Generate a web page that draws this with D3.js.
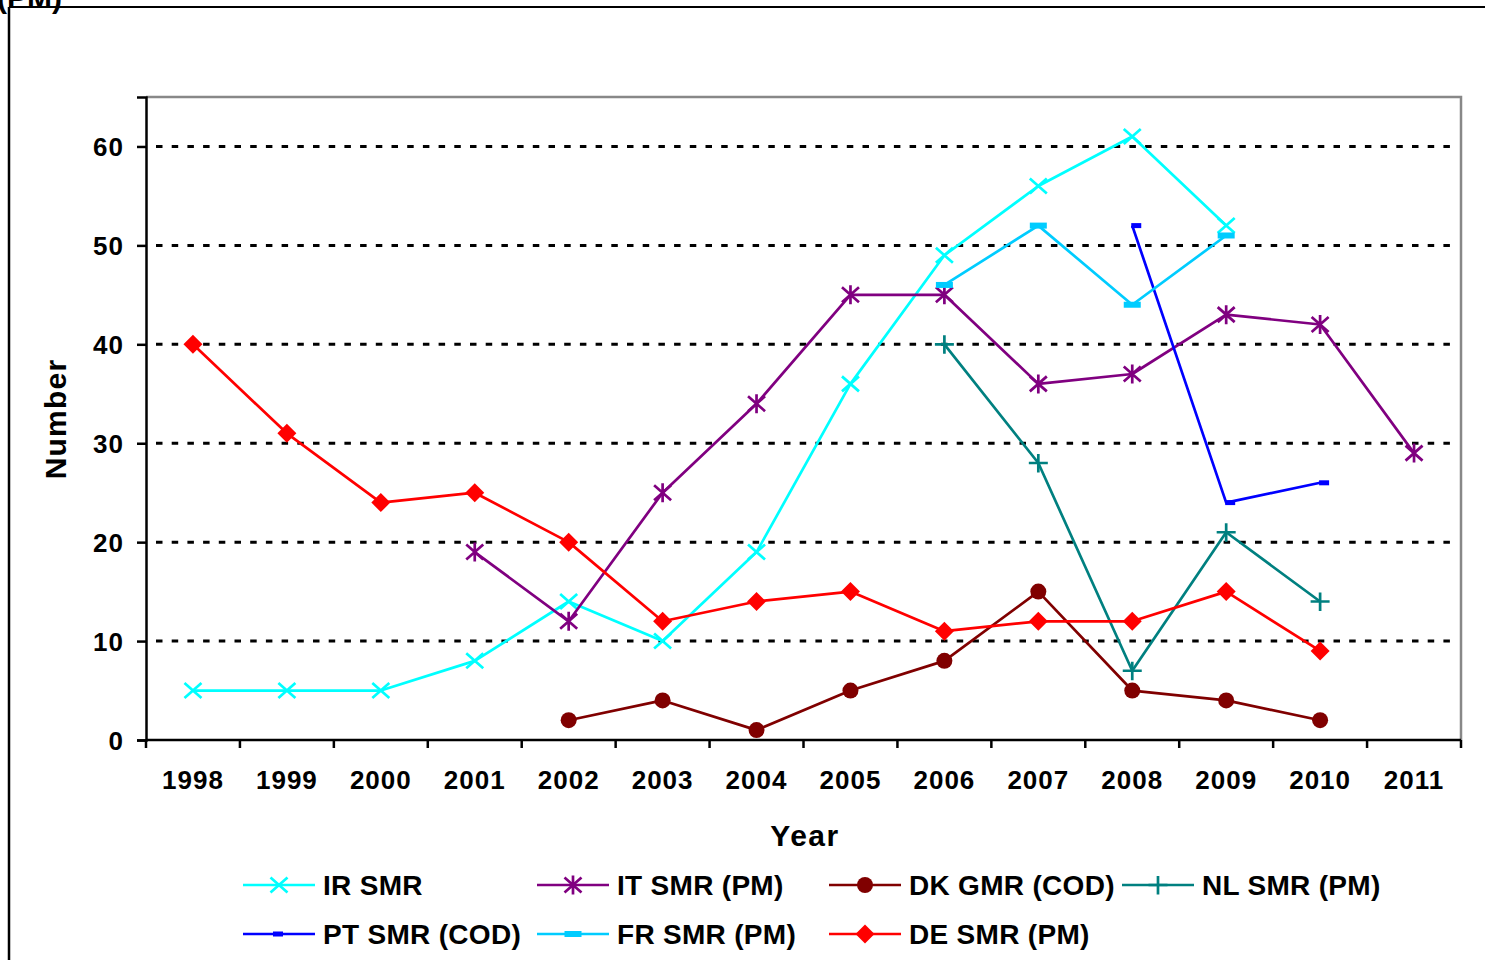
<!DOCTYPE html>
<html>
<head>
<meta charset="utf-8">
<script src="https://cdn.jsdelivr.net/npm/d3@7"></script>
<style>
  body { margin: 0; background: #fff; }
  svg { display: block; font-family: "Liberation Sans", Arial, sans-serif; }
</style>
</head>
<body>
<svg id="chart" width="1485" height="960"></svg>
<script>
// years on the x axis
var years = ["1998","1999","2000","2001","2002","2003","2004","2005","2006","2007","2008","2009","2010","2011"];
var yTicks = [0, 10, 20, 30, 40, 50, 60];

// series values, one per year (null = no value)
var irSMR   = [5, 5, 5, 8, 14, 10, 19, 36, 49, 56, 61, 52, null, null];
var itSMR   = [null, null, null, 19, 12, 25, 34, 45, 45, 36, 37, 43, 42, 29];
var dkGMR   = [null, null, null, null, 2, 4, 1, 5, 8, 15, 5, 4, 2, null];
var nlSMR   = [null, null, null, null, null, null, null, null, 40, 28, 7, 21, 14, null];
var ptSMR   = [null, null, null, null, null, null, null, null, null, null, 52, 24, 26, null];
var frSMR   = [null, null, null, null, null, null, null, null, 46, 52, 44, 51, null, null];
var deSMR   = [40, 31, 24, 25, 20, 12, 14, 15, 11, 12, 12, 15, 9, null];

var seriesNames = ["IR SMR", "IT SMR (PM)", "DK GMR (COD)", "NL SMR (PM)", "PT SMR (COD)", "FR SMR (PM)", "DE SMR (PM)"];

var series = [
  {name: seriesNames[0], values: irSMR, color: "#00FFFF", marker: "x"},
  {name: seriesNames[1], values: itSMR, color: "#800080", marker: "star"},
  {name: seriesNames[2], values: dkGMR, color: "#800000", marker: "circle"},
  {name: seriesNames[3], values: nlSMR, color: "#008080", marker: "plus"},
  {name: seriesNames[4], values: ptSMR, color: "#0000FF", marker: "dashShort"},
  {name: seriesNames[5], values: frSMR, color: "#00CCFF", marker: "dashLong"},
  {name: seriesNames[6], values: deSMR, color: "#FF0000", marker: "diamond"}
];

var svg = d3.select("#chart");

var pLeft = 146, pRight = 1461, pTop = 97, pBottom = 740;

var x = d3.scaleBand().domain(years).range([pLeft, pRight]).padding(0);
var y = d3.scaleLinear().domain([0, 65]).range([pBottom, pTop]);

//外框
svg.append("line").attr("x1", 9).attr("x2", 9).attr("y1", 7).attr("y2", 960)
  .attr("stroke", "#000").attr("stroke-width", 2.5);
svg.append("line").attr("x1", 9).attr("x2", 1485).attr("y1", 7).attr("y2", 7)
  .attr("stroke", "#000").attr("stroke-width", 2);
svg.append("text").attr("x", -3).attr("y", 8)
  .attr("font-size", 30).attr("font-weight", "bold").text("(PM)");

// grid lines
svg.append("g").selectAll("line")
  .data(yTicks.filter(function(d) { return d > 0; }))
  .enter().append("line")
  .attr("x1", pLeft + 10).attr("x2", pRight - 6)
  .attr("y1", function(d) { return y(d); })
  .attr("y2", function(d) { return y(d); })
  .attr("stroke", "#000").attr("stroke-width", 3)
  .attr("stroke-dasharray", "6.5,9.2");

// plot frame (top and right in gray)
svg.append("path")
  .attr("d", "M" + pLeft + "," + pTop + "H" + pRight + "V" + pBottom)
  .attr("fill", "none").attr("stroke", "#888").attr("stroke-width", 2.5);

// y axis
var yAxis = d3.axisLeft(y).tickValues(yTicks).tickSize(9).tickPadding(13);
var gy = svg.append("g").attr("transform", "translate(" + pLeft + ",0)").call(yAxis);
gy.select(".domain").attr("stroke", "#000").attr("stroke-width", 2.5);
gy.selectAll(".tick line").attr("stroke", "#000").attr("stroke-width", 2.5);
gy.selectAll(".tick text").attr("font-size", 26).attr("font-weight", "bold")
  .attr("letter-spacing", 1).attr("fill", "#000").attr("font-family", "Liberation Sans, Arial, sans-serif")
  .attr("dy", "0.36em");

// x axis
var gx = svg.append("g").attr("transform", "translate(0," + pBottom + ")");
gx.append("line").attr("x1", pLeft).attr("x2", pRight).attr("y1", 0).attr("y2", 0)
  .attr("stroke", "#000").attr("stroke-width", 2.5);
var bounds = years.map(function(d) { return x(d); }).concat([pRight]);
gx.selectAll("line.tk").data(bounds).enter().append("line").attr("class", "tk")
  .attr("x1", function(d) { return d; }).attr("x2", function(d) { return d; })
  .attr("y1", 0).attr("y2", 8).attr("stroke", "#000").attr("stroke-width", 2.5);
gx.selectAll("text").data(years).enter().append("text")
  .attr("x", function(d) { return x(d) + x.bandwidth() / 2; })
  .attr("y", 49)
  .attr("text-anchor", "middle").attr("font-size", 26).attr("font-weight", "bold")
  .attr("letter-spacing", 1)
  .text(function(d) { return d; });

// axis titles
svg.append("text").attr("x", 805).attr("y", 846).attr("text-anchor", "middle")
  .attr("font-size", 30).attr("font-weight", "bold").attr("letter-spacing", 1.5).text("Year");
svg.append("text").attr("transform", "translate(66,419) rotate(-90)").attr("text-anchor", "middle")
  .attr("font-size", 30).attr("font-weight", "bold").attr("letter-spacing", 1.2).text("Number");

// markers
function drawMarker(g, type, color, cx, cy) {
  if (type === "x") {
    g.append("path").attr("d", "M" + (cx - 8.5) + "," + (cy - 7.5) + "L" + (cx + 8.5) + "," + (cy + 7.5) +
      "M" + (cx - 8.5) + "," + (cy + 7.5) + "L" + (cx + 8.5) + "," + (cy - 7.5))
      .attr("stroke", color).attr("stroke-width", 2.7).attr("fill", "none");
  } else if (type === "star") {
    g.append("path").attr("d", "M" + (cx - 8.5) + "," + (cy - 7.5) + "L" + (cx + 8.5) + "," + (cy + 7.5) +
      "M" + (cx - 8.5) + "," + (cy + 7.5) + "L" + (cx + 8.5) + "," + (cy - 7.5) +
      "M" + cx + "," + (cy - 9.5) + "L" + cx + "," + (cy + 9.5))
      .attr("stroke", color).attr("stroke-width", 2.7).attr("fill", "none");
  } else if (type === "circle") {
    g.append("circle").attr("cx", cx).attr("cy", cy).attr("r", 8).attr("fill", color);
  } else if (type === "plus") {
    g.append("path").attr("d", "M" + (cx - 9.5) + "," + cy + "L" + (cx + 9.5) + "," + cy +
      "M" + cx + "," + (cy - 9) + "L" + cx + "," + (cy + 9.5))
      .attr("stroke", color).attr("stroke-width", 2.7).attr("fill", "none");
  } else if (type === "dashShort") {
    g.append("rect").attr("x", cx - 1).attr("y", cy - 2.5).attr("width", 10).attr("height", 5).attr("fill", color);
  } else if (type === "dashLong") {
    g.append("rect").attr("x", cx - 8.5).attr("y", cy - 3).attr("width", 17).attr("height", 6).attr("fill", color);
  } else if (type === "diamond") {
    g.append("path").attr("d", "M" + cx + "," + (cy - 9.5) + "L" + (cx + 9.5) + "," + cy +
      "L" + cx + "," + (cy + 9.5) + "L" + (cx - 9.5) + "," + cy + "Z").attr("fill", color);
  }
}

var line = d3.line()
  .defined(function(d) { return d.v != null; })
  .x(function(d) { return x(d.year) + x.bandwidth() / 2; })
  .y(function(d) { return y(d.v); });

series.forEach(function(s) {
  var pts = years.map(function(yr, i) { return {year: yr, v: s.values[i]}; });
  var g = svg.append("g");
  g.append("path").datum(pts).attr("d", line)
    .attr("fill", "none").attr("stroke", s.color).attr("stroke-width", 2.7)
    .attr("stroke-linejoin", "round");
  pts.forEach(function(p) {
    if (p.v == null) return;
    drawMarker(g, s.marker, s.color, x(p.year) + x.bandwidth() / 2, y(p.v));
  });
});

// legend
var legX = [243, 537, 829, 1122];
var legY = [885, 934];
series.forEach(function(s, i) {
  var lx = legX[i % 4], ly = legY[Math.floor(i / 4)];
  var g = svg.append("g");
  g.append("line").attr("x1", lx).attr("x2", lx + 72).attr("y1", ly).attr("y2", ly)
    .attr("stroke", s.color).attr("stroke-width", 2.7);
  var mx = s.marker === "dashShort" ? lx + 31 : lx + 36;
  drawMarker(g, s.marker, s.color, mx, ly);
  g.append("text").attr("x", lx + 80).attr("y", ly + 10)
    .attr("font-size", 28).attr("font-weight", "bold").attr("letter-spacing", 0.3)
    .text(s.name);
});
</script>
</body>
</html>
